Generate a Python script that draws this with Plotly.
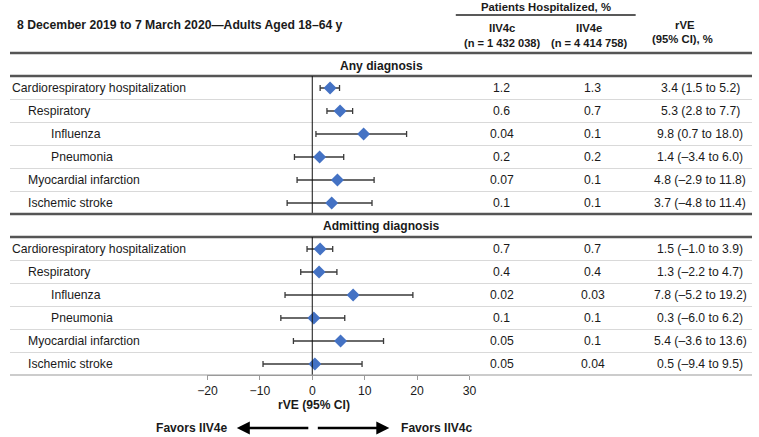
import plotly.graph_objects as go

W, H = 759, 437

# ---------------- data ----------------
outcomes = ["Cardiorespiratory hospitalization", "Respiratory", "Influenza",
            "Pneumonia", "Myocardial infarction", "Ischemic stroke"]
indent_level = [0, 1, 2, 2, 1, 1]

any_est = [3.4, 5.3, 9.8, 1.4, 4.8, 3.7]
any_lo = [1.5, 2.8, 0.7, -3.4, -2.9, -4.8]
any_hi = [5.2, 7.7, 18.0, 6.0, 11.8, 11.4]
any_c = ["1.2", "0.6", "0.04", "0.2", "0.07", "0.1"]
any_e = ["1.3", "0.7", "0.1", "0.2", "0.1", "0.1"]

adm_est = [1.5, 1.3, 7.8, 0.3, 5.4, 0.5]
adm_lo = [-1.0, -2.2, -5.2, -6.0, -3.6, -9.4]
adm_hi = [3.9, 4.7, 19.2, 6.2, 13.6, 9.5]
adm_c = ["0.7", "0.4", "0.02", "0.1", "0.05", "0.05"]
adm_e = ["0.7", "0.4", "0.03", "0.1", "0.1", "0.04"]

sections = ["Any diagnosis", "Admitting diagnosis"]
x_ticks = [-20, -10, 0, 10, 20, 30]
x_tick_labels = ["\u221220", "\u221210", "0", "10", "20", "30"]

# ---------------- layout constants (pixels) ----------------
FONT = "Liberation Sans, Arial, sans-serif"
ROW_H = 23
sec_title_y = [66, 226]
sec_top = [76, 237]
first_row_y = [88, 249]
AXIS_Y = 375
X0_PX, X1_PX = 202, 470
COL_C, COL_E, COL_R = 503, 596, 706
TXT = "#1a1a1a"


def py(p):
    return 1 - p / H


def px(p):
    return p / W


def fmt(v):
    s = f"{v:.1f}"
    return s.replace("-", "\u2013")


fig = go.Figure()
shapes = []
ann = []


def text(x, y, s, size=12, bold=False, xanchor="center", color=TXT):
    ann.append(dict(x=px(x), y=py(y), xref="paper", yref="paper", text=(f"<b>{s}</b>" if bold else s),
                    showarrow=False, xanchor=xanchor, yanchor="middle",
                    font=dict(family=FONT, size=size, color=color)))


def hline(y, x0=0, x1=W, color="#555", width=2):
    shapes.append(dict(type="line", xref="paper", yref="paper", x0=px(x0), x1=px(x1),
                       y0=py(y), y1=py(y), line=dict(color=color, width=width)))


# header
text(5, 25, "8 December 2019 to 7 March 2020\u2014Adults Aged 18\u201364 y", 12.2, True, "left")
text(548, 7, "Patients Hospitalized, %", 11.3, True)
hline(15, 456, 640, "#222", 1.5)
text(COL_C, 28, "IIV4c", 11.3, True)
text(COL_C, 43, "(n = 1 432 038)", 11.1, True)
text(COL_E - 4, 28, "IIV4e", 11.3, True)
text(COL_E - 4, 43, "(n = 4 414 758)", 11.1, True)
text(690, 25, "rVE", 11.3, True)
text(688, 39, "(95% CI), %", 11.3, True)
hline(53, color="#555", width=2.5)

all_data = [(any_est, any_lo, any_hi, any_c, any_e), (adm_est, adm_lo, adm_hi, adm_c, adm_e)]
for s, (est, lo, hi, cc, ce) in enumerate(all_data):
    text(W / 2, sec_title_y[s], sections[s], 12.1, True)
    if s == 1:
        hline(214, color="#555", width=2.5)
    hline(sec_top[s], color="#555", width=2.5)
    ys = [first_row_y[s] + i * ROW_H for i in range(len(outcomes))]
    for i, name in enumerate(outcomes):
        text(0 + indent_level[i] * 16 + (8 if indent_level[i] == 2 else 0), ys[i], name, 12.2, False, "left")
        text(COL_C, ys[i], cc[i], 12.2)
        text(COL_E, ys[i], ce[i], 12.2)
        text(COL_R, ys[i], f"{fmt(est[i])} ({fmt(lo[i])} to {fmt(hi[i])})", 12.2)
        if i < len(outcomes) - 1:
            hline(ys[i] + 11.5, color="#d9d9d9", width=1.2)
    # reference line at 0
    shapes.append(dict(type="line", xref="x", yref="paper", x0=0, x1=0,
                       y0=py(sec_top[s]), y1=py(sec_top[s] + 6 * ROW_H),
                       line=dict(color="#111", width=1)))
    fig.add_trace(go.Scatter(
        x=est, y=ys, mode="markers",
        marker=dict(symbol="diamond", size=10, color="#4472C4"),
        error_x=dict(type="data", symmetric=False,
                     array=[h - e for h, e in zip(hi, est)],
                     arrayminus=[e - l for e, l in zip(est, lo)],
                     color="#3a3a3a", thickness=1.3, width=3),
        showlegend=False, hoverinfo="skip"))

hline(AXIS_Y, color="#9a9a9a", width=1.2)

# axis title & favors arrows
text(311, 405, "rVE (95% CI)", 12.1, True)
text(225, 428, "Favors IIV4e", 12.1, True, "right")
text(398, 428, "Favors IIV4c", 12.1, True, "left")
for tail, tip in [(305, 232), (315, 388)]:
    ann.append(dict(x=px(tip), y=py(428), ax=tail - tip, ay=0, xref="paper", yref="paper",
                    axref="pixel", ayref="pixel", text="", showarrow=True,
                    arrowhead=2, arrowsize=1, arrowwidth=2.6, arrowcolor="#000"))

fig.update_layout(
    width=W, height=H, margin=dict(l=0, r=0, t=0, b=0),
    paper_bgcolor="white", plot_bgcolor="rgba(0,0,0,0)",
    shapes=shapes, annotations=ann,
    xaxis=dict(domain=[px(X0_PX), px(X1_PX)], range=[-20, 30], tickvals=x_ticks,
               ticktext=x_tick_labels, showgrid=False, zeroline=False, showline=True,
               linecolor="#9a9a9a", linewidth=1.2, ticks="outside", ticklen=4, tickcolor="#9a9a9a",
               tickfont=dict(family=FONT, size=12.2, color=TXT), fixedrange=True),
    yaxis=dict(domain=[py(AXIS_Y), 1], range=[AXIS_Y, 0], visible=False, fixedrange=True),
)

fig.write_html("out.html", config={"displayModeBar": False},
               post_script="document.body.style.margin='0';document.body.style.overflow='hidden';")
